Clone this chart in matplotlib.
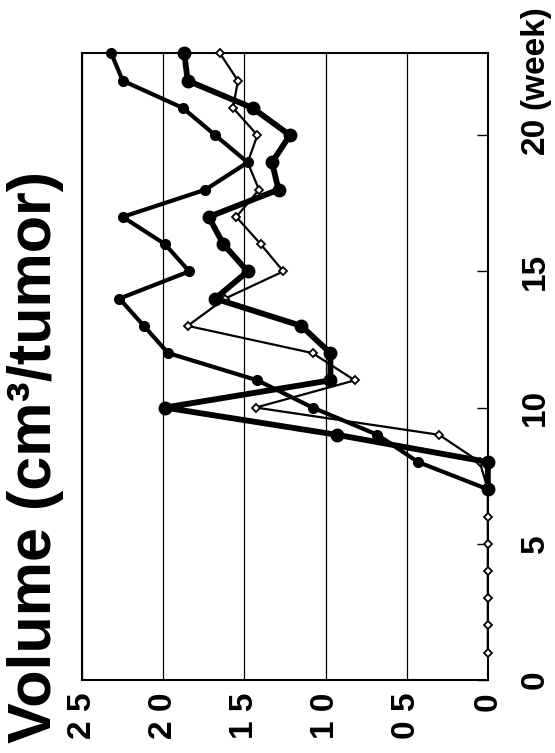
import matplotlib.pyplot as plt

plt.rcParams['font.family'] = ['Liberation Sans', 'DejaVu Sans']

# tumour volume (cm3/tumor) by week, three groups
weeks_a = [7, 8, 9, 10, 11, 12, 13, 14, 15, 16, 17, 18, 19, 20, 21, 22, 23]
vol_a = [0, 0.43, 0.68, 1.08, 1.42, 1.97, 2.12, 2.27, 1.84, 1.99, 2.25, 1.74,
         1.48, 1.68, 1.88, 2.25, 2.32]

weeks_b = [7, 8, 9, 10, 11, 12, 13, 14, 15, 16, 17, 18, 19, 20, 21, 22, 23]
vol_b = [0, 0, 0.93, 1.99, 0.97, 0.97, 1.15, 1.68, 1.48, 1.63, 1.72, 1.29,
         1.33, 1.22, 1.45, 1.85, 1.87]

weeks_c = list(range(1, 24))
vol_c = [0, 0, 0, 0, 0, 0, 0, 0.05, 0.30, 1.43, 0.82, 1.08, 1.85, 1.62, 1.26,
         1.40, 1.55, 1.41, 1.48, 1.42, 1.57, 1.54, 1.65]

vol_ticks = [0, 0.5, 1.0, 1.5, 2.0, 2.5]
vol_tick_labels = ['0', '0 5', '1 0', '1 5', '2 0', '2 5']
week_ticks = [0, 5, 10, 15, 20]
week_tick_labels = ['0', '5', '10', '15', '20']

fig = plt.figure(figsize=(5.55, 7.53), dpi=100)
ax = fig.add_axes([0.148, 0.097, 0.731, 0.832])

# volume runs right to left, weeks bottom to top
ax.plot(vol_c, weeks_c, color='black', lw=1.6, marker='D', ms=4.5,
        mfc='white', mec='black', mew=1.3, clip_on=False, zorder=3)
ax.plot(vol_a, weeks_a, color='black', lw=3.0, marker='o', ms=7,
        clip_on=False, zorder=4)
ax.plot(vol_b, weeks_b, color='black', lw=4.2, marker='o', ms=9,
        clip_on=False, zorder=5)

ax.set_xlim(2.5, 0)
ax.set_ylim(0, 23)

ax.set_xticks(vol_ticks)
ax.set_xticklabels(vol_tick_labels, fontsize=24, fontweight='bold')
ax.tick_params(axis='x', length=0, pad=9, labelrotation=90)

ax.yaxis.tick_right()
ax.set_yticks(week_ticks)
ax.set_yticklabels(week_tick_labels, fontsize=24, fontweight='bold')
ax.tick_params(axis='y', direction='in', length=8, width=1.0, pad=23,
               labelrotation=90)
for lab in ax.get_yticklabels():
    lab.set_va('center')

ax.annotate('(week)', xy=(1, 20), xycoords=ax.get_yaxis_transform(),
            xytext=(23, 19), textcoords='offset points', rotation=90,
            ha='left', va='bottom', fontsize=24, fontweight='bold')

ax.grid(axis='x', color='black', lw=0.9)
ax.set_axisbelow(True)
for sp in ax.spines.values():
    sp.set_linewidth(1.5)

fig.text(36 / 555, 10 / 753, 'Volume (cm³/tumor)', rotation=90,
         ha='center', va='bottom', fontsize=44, fontweight='bold')

fig.savefig('out.png', dpi=100)
